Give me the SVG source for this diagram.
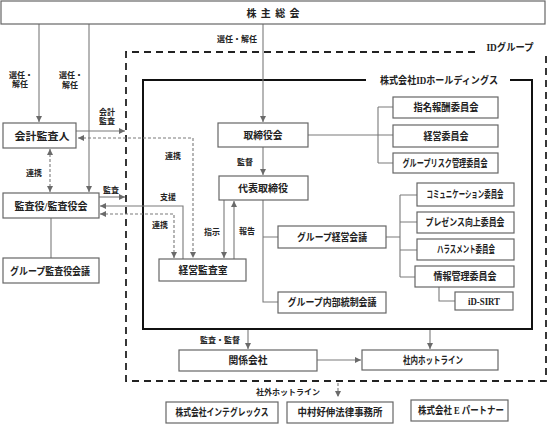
<svg xmlns="http://www.w3.org/2000/svg" width="550" height="425" viewBox="0 0 550 425">
<style>
.bx{fill:#fff;stroke:#666;stroke-width:1.2}
.t{font-family:"Liberation Serif","Noto Sans CJK JP",serif;font-weight:bold;font-size:10px;fill:#222;text-anchor:middle;dominant-baseline:central}
.s{font-size:8px}
.c{fill:none;stroke:#7a7a7a;stroke-width:1.1}
.d{stroke-dasharray:3,2}
.a{marker-end:url(#ah)}
.b{marker-start:url(#ahs)}
.grp{fill:none;stroke:#222;stroke-width:1.8;stroke-dasharray:7,5}
.hd{fill:none;stroke:#111;stroke-width:2}
</style>
<defs>
<marker id="ah" markerUnits="userSpaceOnUse" markerWidth="8" markerHeight="8" refX="6" refY="3.5" orient="auto"><path d="M0,0.5 L6,3.5 L0,6.5 Z" fill="#6a6a6a"/></marker>
<marker id="ahs" markerUnits="userSpaceOnUse" markerWidth="8" markerHeight="8" refX="0" refY="3.5" orient="auto"><path d="M6,0.5 L0,3.5 L6,6.5 Z" fill="#6a6a6a"/></marker>
</defs>
<rect width="550" height="425" fill="#fff"/>

<g id="frames">
<path class="grp" d="M475,52 H126 V381 H546 V52"/>
<text class="t" x="510" y="47" textLength="47" lengthAdjust="spacingAndGlyphs">IDグループ</text>
<path class="hd" d="M366,80 H143 V329 H532 V80 H510"/>
<text class="t" x="439" y="80" textLength="118" lengthAdjust="spacingAndGlyphs">株式会社IDホールディングス</text>
</g>

<g id="connectors">
<path class="c a" d="M39,24 V122"/>
<path class="c a" d="M89,24 V192"/>
<path class="c a" d="M263,24 V122"/>
<path class="c a" d="M76,131 H125"/>
<path class="c d a b" d="M78,138 H193 V258"/>
<path class="c d a b" d="M50,149 V192"/>
<path class="c a" d="M99,197 H125"/>
<path class="c a" d="M183,259 V206 H100"/>
<path class="c d a b" d="M100,214 H174 V258"/>
<path class="c" d="M51,218 V258"/>
<path class="c a" d="M263,147 V175"/>
<path class="c a" d="M224,200 V258"/>
<path class="c a" d="M234,259 V201"/>
<path class="c" d="M263,200 V302 H278 M263,237 H278"/>
<path class="c" d="M386,237 H400 M400,195 V277 M400,195 H417 M400,222 H417 M400,250 H417 M400,277 H415"/>
<path class="c" d="M439,287 V301 H455"/>
<path class="c" d="M308,135 H393 M378,107 V163 M378,107 H393 M378,163 H393"/>
<path class="c a" d="M248,330 V349"/>
<path class="c a" d="M430,330 V349"/>
<path class="c a" d="M317,360 H361"/>
<path class="c d a" d="M338,383 V397"/>
<text class="t s" x="237" y="39">選任・解任</text>
<text class="t s" x="21" y="75">選任・</text>
<text class="t s" x="20" y="84">解任</text>
<text class="t s" x="71" y="75">選任・</text>
<text class="t s" x="70" y="85">解任</text>
<text class="t s" x="107" y="112">会計</text>
<text class="t s" x="107" y="121">監査</text>
<text class="t s" x="34" y="173">連携</text>
<text class="t s" x="111" y="190">監査</text>
<text class="t s" x="173" y="156">連携</text>
<text class="t s" x="168" y="197">支援</text>
<text class="t s" x="160" y="225">連携</text>
<text class="t s" x="245" y="162">監督</text>
<text class="t s" x="212" y="232">指示</text>
<text class="t s" x="247" y="231">報告</text>
<text class="t s" x="220" y="340">監査・監督</text>
<text class="t s" x="288" y="392">社外ホットライン</text>
</g>

<g id="shareholders"><rect class="bx" x="1" y="1" width="544" height="23"/><text class="t" x="273" y="13" textLength="53" lengthAdjust="spacing">株 主 総 会</text></g>
<g id="accounting-auditor"><rect class="bx" x="3" y="123" width="73" height="25"/><text class="t" x="42" y="136" textLength="55" lengthAdjust="spacingAndGlyphs">会計監査人</text></g>
<g id="auditors"><rect class="bx" x="3" y="193" width="96" height="25"/><text class="t" x="51" y="206" textLength="73" lengthAdjust="spacingAndGlyphs">監査役/監査役会</text></g>
<g id="group-auditors-meeting"><rect class="bx" x="3" y="258" width="96" height="25"/><text class="t" x="50" y="271" textLength="80" lengthAdjust="spacingAndGlyphs">グループ監査役会議</text></g>
<g id="board"><rect class="bx" x="218" y="123" width="90" height="24"/><text class="t" x="263" y="135" textLength="39" lengthAdjust="spacingAndGlyphs">取締役会</text></g>
<g id="representative"><rect class="bx" x="219" y="176" width="89" height="24"/><text class="t" x="263" y="188" textLength="50" lengthAdjust="spacingAndGlyphs">代表取締役</text></g>
<g id="audit-office"><rect class="bx" x="159" y="259" width="87" height="22"/><text class="t" x="203" y="270" textLength="49" lengthAdjust="spacingAndGlyphs">経営監査室</text></g>
<g id="nomination"><rect class="bx" x="393" y="97" width="105" height="21"/><text class="t" x="446" y="107.5" font-size="9" textLength="65" lengthAdjust="spacingAndGlyphs">指名報酬委員会</text></g>
<g id="management-committee"><rect class="bx" x="393" y="125" width="105" height="22"/><text class="t" x="446" y="136" font-size="9" textLength="45" lengthAdjust="spacingAndGlyphs">経営委員会</text></g>
<g id="risk"><rect class="bx" x="393" y="153" width="105" height="20"/><text class="t" x="445" y="163" font-size="9" textLength="85" lengthAdjust="spacingAndGlyphs">グループリスク管理委員会</text></g>
<g id="group-management"><rect class="bx" x="278" y="226" width="108" height="22"/><text class="t" x="332" y="237" textLength="70" lengthAdjust="spacingAndGlyphs">グループ経営会議</text></g>
<g id="internal-control"><rect class="bx" x="278" y="292" width="108" height="21"/><text class="t" x="332" y="302.5" textLength="89" lengthAdjust="spacingAndGlyphs">グループ内部統制会議</text></g>
<g id="communication"><rect class="bx" x="417" y="183" width="97" height="23"/><text class="t" x="465" y="194.5" font-size="9" textLength="77" lengthAdjust="spacingAndGlyphs">コミュニケーション委員会</text></g>
<g id="presence"><rect class="bx" x="417" y="212" width="97" height="21"/><text class="t" x="465" y="222.5" font-size="9" textLength="79" lengthAdjust="spacingAndGlyphs">プレゼンス向上委員会</text></g>
<g id="harassment"><rect class="bx" x="417" y="239" width="97" height="21"/><text class="t" x="466" y="249.5" font-size="9" textLength="58" lengthAdjust="spacingAndGlyphs">ハラスメント委員会</text></g>
<g id="info-management"><rect class="bx" x="415" y="266" width="99" height="21"/><text class="t" x="465" y="276.5" font-size="9" textLength="63" lengthAdjust="spacingAndGlyphs">情報管理委員会</text></g>
<g id="id-sirt"><rect class="bx" x="455" y="292" width="58" height="18"/><text class="t" x="484" y="301" font-size="9" textLength="32" lengthAdjust="spacingAndGlyphs">iD-SIRT</text></g>
<g id="affiliates"><rect class="bx" x="179" y="350" width="138" height="21"/><text class="t" x="248" y="360.5" textLength="39" lengthAdjust="spacingAndGlyphs">関係会社</text></g>
<g id="internal-hotline"><rect class="bx" x="362" y="350" width="136" height="20"/><text class="t" x="433" y="360" textLength="60" lengthAdjust="spacingAndGlyphs">社内ホットライン</text></g>
<g id="integrex"><rect class="bx" x="166" y="402" width="112" height="21"/><text class="t" x="222" y="412.5" textLength="93" lengthAdjust="spacingAndGlyphs">株式会社インテグレックス</text></g>
<g id="law-office"><rect class="bx" x="287" y="402" width="106" height="21"/><text class="t" x="340" y="412.5" textLength="85" lengthAdjust="spacingAndGlyphs">中村好伸法律事務所</text></g>
<g id="e-partner"><rect class="bx" x="411" y="400" width="97" height="21"/><text class="t" x="461" y="410.5" textLength="86" lengthAdjust="spacingAndGlyphs">株式会社 E パートナー</text></g>
</svg>
